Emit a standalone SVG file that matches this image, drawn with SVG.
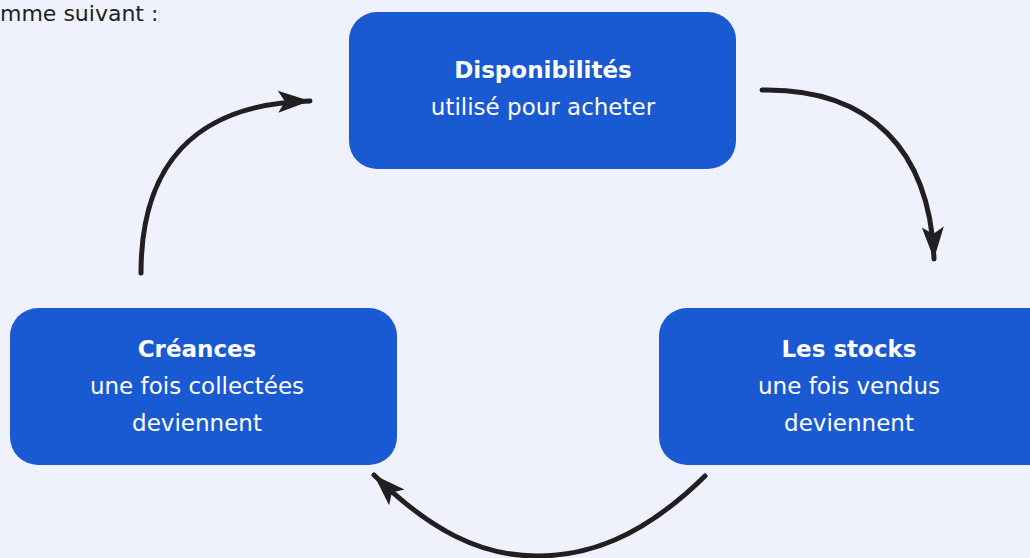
<svg xmlns="http://www.w3.org/2000/svg" width="1030" height="558" viewBox="0 0 1030 558">
<defs>
<style>
.box{fill:#1959d1}
.t{font-family:"DejaVu Sans","Liberation Sans",sans-serif;font-size:23px;fill:#ffffff;text-anchor:middle}
.b{font-weight:bold}
.c{fill:none;stroke:#231f20;stroke-width:5;stroke-linecap:round}
</style>
<marker id="ah" markerUnits="userSpaceOnUse" viewBox="-33 -14 35 28" refX="0" refY="0" markerWidth="35" markerHeight="28" orient="auto">
<path d="M0,0 L-32,-11 L-25,0 L-32,11 Z" fill="#231f20"/>
</marker>
</defs>
<rect width="1030" height="558" fill="#eff1fd"/>
<text x="0" y="21" style="font-family:'DejaVu Sans','Liberation Sans',sans-serif;font-size:22px;fill:#222">mme suivant :</text>
<g id="disponibilites">
<rect class="box" x="349" y="12" width="387" height="157" rx="28"/>
<text class="t b" x="543" y="78">Disponibilités</text>
<text class="t" x="543" y="115">utilisé pour acheter</text>
</g>
<g id="creances">
<rect class="box" x="10" y="308" width="387" height="157" rx="28"/>
<text class="t b" x="197" y="357">Créances</text>
<text class="t" x="197" y="394">une fois collectées</text>
<text class="t" x="197" y="431">deviennent</text>
</g>
<g id="stocks">
<rect class="box" x="659" y="308" width="400" height="157" rx="28"/>
<text class="t b" x="849" y="357">Les stocks</text>
<text class="t" x="849" y="394">une fois vendus</text>
<text class="t" x="849" y="431">deviennent</text>
</g>
<g id="connectors">
<path class="c" d="M762,90 C870,88 930,150 934,259" marker-end="url(#ah)"/>
<path class="c" d="M705,476 C640,540 585,556 537,556 C480,556 430,530 374,475" marker-end="url(#ah)"/>
<path class="c" d="M141,273 C141,170 190,104 310,101" marker-end="url(#ah)"/>
</g>
</svg>
